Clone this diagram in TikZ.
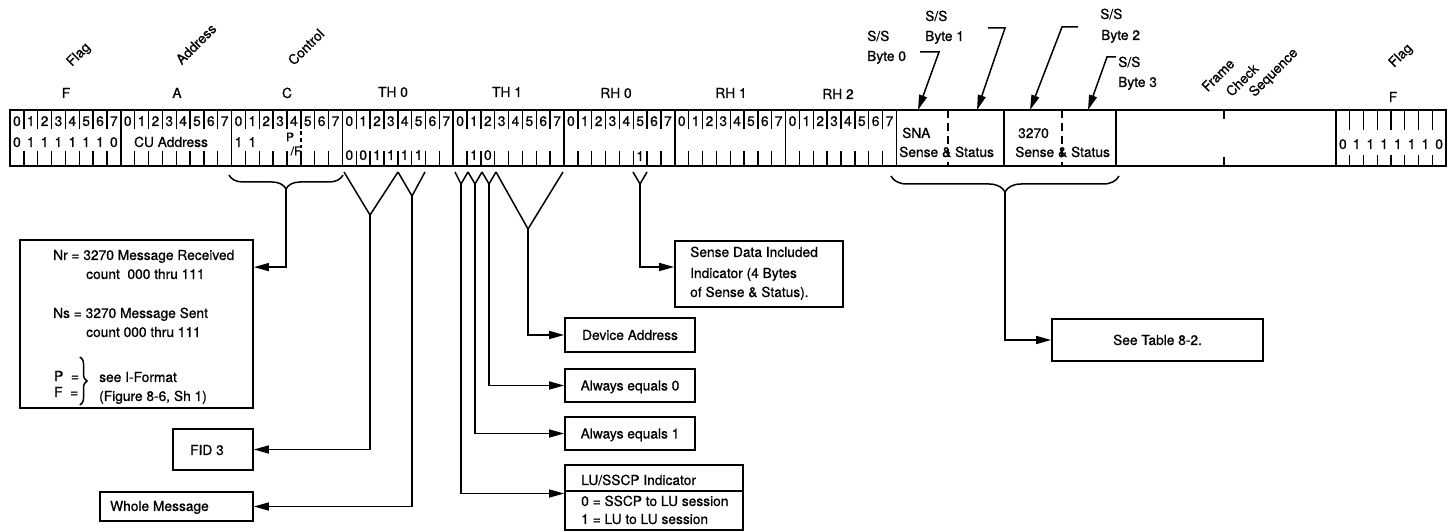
\documentclass[tikz,border=0pt]{standalone}
\usepackage{fontspec}
\setmainfont{TeX Gyre Heros}[FakeBold=0.8]
\usetikzlibrary{arrows.meta,decorations.pathreplacing}

\newcommand{\bytex}{110.8}
\newcommand{\bitx}{13.85}

\tikzset{
  txt/.style={inner sep=0pt,text height=9.9bp,text depth=0pt,font=\fontsize{13.8}{16}\selectfont},
  small/.style={inner sep=0pt,font=\fontsize{12}{14}\selectfont},
  tilt/.style={txt,rotate=45},
  infobox/.style={draw,line width=1.8bp,inner sep=0pt},
  feed/.style={line width=1.5bp,-{Triangle[length=15bp,width=8bp]}},
  fork/.style={line width=1.5bp},
  curly/.style={line width=1.5bp,decorate,decoration={brace,amplitude=#1}},
  tick/.style={line width=1.4bp},
}

\begin{document}
\begin{tikzpicture}[x=1bp,y=-1bp]
\useasboundingbox (0,0) rectangle (1452,532);

% frame
\draw[line width=1.9bp] (10,110) rectangle (1446,166);
\foreach \k in {1,...,8}
  \draw[line width=1.7bp] ({10+\k*\bytex},110) -- ({10+\k*\bytex},166);
\draw[line width=1.7bp] (1004,110) -- (1004,166) (1116,110) -- (1116,166) (1336,110) -- (1336,166);
\draw[line width=1.4bp,dash pattern=on 8bp off 5bp] (948,110) -- (948,166) (1062,110) -- (1062,166);
\draw[tick] (1224,110) -- (1224,119) (1224,157) -- (1224,166);

% bit numbers and ticks
\foreach \k in {0,...,7} {
  \foreach \j in {0,...,7}
    \node[txt] (n\k\j) at ({10+\k*\bytex+(\j+0.5)*\bitx},121) {\j};
  \foreach \j in {1,...,7} {
    \draw[tick] ({10+\k*\bytex+\j*\bitx},110) -- ++(0,19);
    \draw[tick] ({10+\k*\bytex+\j*\bitx},151) -- ({10+\k*\bytex+\j*\bitx},166);
  }
}
\foreach \j in {1,...,7} {
  \draw[tick] ({1336+\j*13.75},110) -- ++(0,20);
  \draw[tick] ({1336+\j*13.75},155) -- ({1336+\j*13.75},166);
}

% field contents
\foreach \v [count=\j from 0] in {0,1,1,1,1,1,1,0} {
  \node[txt] (fl\j) at ({10+(\j+0.5)*\bitx},142) {\v};
  \node[txt] (fr\j) at ({1336+(\j+0.5)*13.75},144) {\v};
}
\node[txt] (cuaddr) at (171,142) {CU Address};
\node[txt] (cb0) at ({10+2*\bytex+0.5*\bitx},142) {1};
\node[txt] (cb1) at ({10+2*\bytex+1.5*\bitx},142) {1};
\node[small] (pbit) at (290,137) {P};
\node[small] (fbit) at (296,151) {/F};
\draw[line width=1.1bp,dash pattern=on 4bp off 3bp] (301,131) -- (301,148);
\foreach \v [count=\j from 0] in {0,0,1,1,1,1}
  \node[txt] (th\j) at ({10+3*\bytex+(\j+0.5)*\bitx},155) {\v};
\node[txt] (tha) at ({10+4*\bytex+1.5*\bitx},155) {1};
\node[txt] (thb) at ({10+4*\bytex+2.5*\bitx},155) {0};
\node[txt] (rha) at ({10+5*\bytex+5.5*\bitx},156) {1};
\node[txt] (sna) at (902,133) [anchor=west] {SNA};
\node[txt] (snass) at (899,152) [anchor=west] {Sense \& Status};
\node[txt] (dsp) at (1018,133) [anchor=west] {3270};
\node[txt] (dspss) at (1015,152) [anchor=west] {Sense \& Status};

% field names
\node[txt] (lf) at (66,93) {F};
\node[txt] (la) at (177,93) {A};
\node[txt] (lc) at (287,93) {C};
\node[txt] (lth0) at (393,92) {TH 0};
\node[txt] (lth1) at (507,92) {TH 1};
\node[txt] (lrh0) at (616,93) {RH 0};
\node[txt] (lrh1) at (731,93) {RH 1};
\node[txt] (lrh2) at (838,94) {RH 2};
\node[txt] (rf) at (1393,97) {F};
\node[tilt] (flagl) at (78,54) {Flag};
\node[tilt] (addr) at (196,44) {Address};
\node[tilt] (ctrl) at (306,47) {Control};
\node[tilt] (flagr) at (1400,55) {Flag};
\node[tilt] (fcsa) at (1218,75) {Frame};
\node[tilt] (fcsb) at (1242,80) {Check};
\node[tilt] (fcsc) at (1273,72) {Sequence};

% S/S bytes
\node[txt,anchor=west] (ss0) at (867,36) {S/S};
\node[txt,anchor=west] (by0) at (867,56) {Byte 0};
\node[txt,anchor=west] (ss1) at (925,16) {S/S};
\node[txt,anchor=west] (by1) at (925,36) {Byte 1};
\node[txt,anchor=west] (ss2) at (1100,14) {S/S};
\node[txt,anchor=west] (by2) at (1101,35) {Byte 2};
\node[txt,anchor=west] (ss3) at (1118,62) {S/S};
\node[txt,anchor=west] (by3) at (1118,82) {Byte 3};
\coordinate (s0a) at (920,52); \coordinate (s0k) at (939,52); \coordinate (s0t) at (918,110);
\coordinate (s1a) at (988,28); \coordinate (s1k) at (1005,28); \coordinate (s1t) at (977,110);
\coordinate (s2a) at (1078,27); \coordinate (s2k) at (1062,27); \coordinate (s2t) at (1030,110);
\coordinate (s3a) at (1116,57); \coordinate (s3k) at (1107,57); \coordinate (s3t) at (1088,110);
\draw[feed] (s0a) -- (s0k) -- (s0t);
\draw[feed] (s1a) -- (s1k) -- (s1t);
\draw[feed] (s2a) -- (s2k) -- (s2t);
\draw[feed] (s3a) -- (s3k) -- (s3t);

% boxes
\node[infobox,minimum width=233bp,minimum height=168bp] (nrbox) at (136.5,324) {};
\node[txt,anchor=west] (nr1) at (53,255) {Nr = 3270 Message Received};
\node[txt,anchor=west] (nr2) at (86,274) {count\ \ 000 thru 111};
\node[txt,anchor=west] (ns1) at (53,313) {Ns = 3270 Message Sent};
\node[txt,anchor=west] (ns2) at (86,332) {count 000 thru 111};
\node[txt,anchor=west] (peq) at (54,376) {P\ \ =};
\node[txt,anchor=west] (feq) at (54,392) {F\ \ =};
\draw[curly=7bp] (80,357) -- (80,405);
\node[txt,anchor=west] (see1) at (99,377) {see I-Format};
\node[txt,anchor=west] (see2) at (99,396) {(Figure 8-6, Sh 1)};

\node[infobox,minimum width=80bp,minimum height=41bp] (fidbox) at (213,449.5) {};
\node[txt] (fidtxt) at (207,450) {FID 3};
\node[infobox,minimum width=153bp,minimum height=29bp] (wholebox) at (176.5,506.5) {};
\node[txt,anchor=west] (wholetxt) at (110,506) {Whole Message};

\node[infobox,minimum width=168bp,minimum height=66bp] (sdbox) at (759,274) {};
\node[txt,anchor=west] (sd1) at (690,252) {Sense Data Included};
\node[txt,anchor=west] (sd2) at (690,273) {Indicator (4 Bytes};
\node[txt,anchor=west] (sd3) at (690,292) {of Sense \& Status).};

\node[infobox,minimum width=130bp,minimum height=34bp,txt] (devbox) at (630,335) {Device Address};
\node[infobox,minimum width=130bp,minimum height=33bp,txt] (eq0box) at (630,385.5) {Always equals 0};
\node[infobox,minimum width=130bp,minimum height=33bp,txt] (eq1box) at (630,433.5) {Always equals 1};
\node[infobox,minimum width=178bp,minimum height=65bp] (lubox) at (654,497.5) {};
\draw[line width=1.8bp] (lubox.west |- 0,491) -- (lubox.east |- 0,491);
\node[txt,anchor=west] (lu1) at (581,480) {LU/SSCP Indicator};
\node[txt,anchor=west] (lu2) at (581,501) {0 = SSCP to LU session};
\node[txt,anchor=west] (lu3) at (581,519) {1 = LU to LU session};

\node[infobox,minimum width=211bp,minimum height=42bp,txt] (seebox) at (1157.5,340) {See Table 8-2.};

% braces and forks
\draw[curly=14bp] (343,175) -- (229,175);
\coordinate (ctip) at (286,189);
\draw[feed] (ctip) |- ([yshift=-28bp]nrbox.north east);

\draw[curly=16bp] (1119,176) -- (891,176);
\coordinate (stip) at (1005,192);
\draw[feed] (stip) |- (seebox.west);

\coordinate (fida) at (344,172); \coordinate (fidb) at (398,172); \coordinate (fid) at (370,215);
\draw[fork] (fida) -- (fid) -- (fidb);
\draw[feed] (fid) |- (fidbox.east);
\coordinate (mpfa) at (398,172); \coordinate (mpfb) at (425,172); \coordinate (mpf) at (412,196);
\draw[fork] (mpfa) -- (mpf) -- (mpfb);
\draw[feed] (mpf) |- (wholebox.east);

\coordinate (lua) at (455,172); \coordinate (lub) at (468,172); \coordinate (lu) at (461,184);
\draw[fork] (lua) -- (lu) -- (lub);
\draw[feed] (lu) |- ([yshift=4bp]lubox.west);
\coordinate (e1a) at (468,172); \coordinate (e1b) at (482,172); \coordinate (e1) at (475,184);
\draw[fork] (e1a) -- (e1) -- (e1b);
\draw[feed] (e1) |- (eq1box.west);
\coordinate (e0a) at (482,172); \coordinate (e0b) at (496,172); \coordinate (e0) at (489,184);
\draw[fork] (e0a) -- (e0) -- (e0b);
\draw[feed] (e0) |- (eq0box.west);
\coordinate (dva) at (496,172); \coordinate (dvb) at (563,172); \coordinate (dv) at (528,229);
\draw[fork] (dva) -- (dv) -- (dvb);
\draw[feed] (dv) |- (devbox.west);
\coordinate (sda) at (633,172); \coordinate (sdb) at (647,172); \coordinate (sd) at (640,184);
\draw[fork] (sda) -- (sd) -- (sdb);
\draw[feed] (sd) |- ([yshift=7bp]sdbox.west);

\end{tikzpicture}
\end{document}
